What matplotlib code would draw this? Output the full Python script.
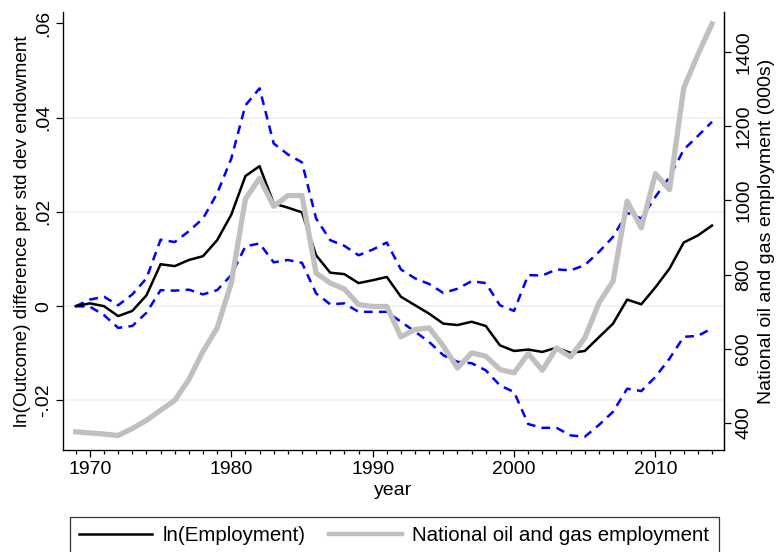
import numpy as np
import matplotlib
matplotlib.use("Agg")
import matplotlib.pyplot as plt
from matplotlib.ticker import MultipleLocator

plt.rcParams['font.family'] = ['Liberation Sans', 'DejaVu Sans']

years = list(range(1969, 2015))

ln_emp = [0.0, 0.0006, 0.0, -0.0021, -0.001, 0.0023, 0.0089, 0.0085, 0.0098, 0.0106,
          0.014, 0.0194, 0.0276, 0.0297, 0.0218, 0.0209, 0.0199, 0.0108, 0.0071, 0.0068,
          0.0049, 0.0055, 0.0062, 0.002, 0.0002, -0.0016, -0.0037, -0.004, -0.0033, -0.0042,
          -0.0083, -0.0095, -0.0092, -0.0097, -0.0088, -0.0099, -0.0095, -0.0066, -0.0037, 0.0014,
          0.0004, 0.004, 0.008, 0.0135, 0.015, 0.0171]

ci_upper = [0.0, 0.0014, 0.002, 0.0002, 0.0025, 0.0059, 0.0141, 0.0136, 0.0159, 0.0186,
            0.0239, 0.0313, 0.0426, 0.0462, 0.0345, 0.0322, 0.0305, 0.0186, 0.014, 0.0128,
            0.0108, 0.012, 0.0135, 0.0078, 0.0059, 0.0047, 0.0028, 0.0037, 0.0053, 0.0049,
            0.0002, -0.001, 0.0066, 0.0065, 0.0078, 0.0076, 0.0087, 0.0115, 0.0147, 0.0198,
            0.0186, 0.0232, 0.0274, 0.0332, 0.0361, 0.0391]

ci_lower = [0.0, -0.0001, -0.0019, -0.0046, -0.0042, -0.0014, 0.0034, 0.0033, 0.0035, 0.0025,
            0.0034, 0.0066, 0.0127, 0.0133, 0.0093, 0.0098, 0.0092, 0.0027, 0.0004, 0.0006,
            -0.0012, -0.0012, -0.0012, -0.0033, -0.0054, -0.0076, -0.0104, -0.0118, -0.0121, -0.0136,
            -0.0168, -0.0182, -0.025, -0.0258, -0.0258, -0.0274, -0.0277, -0.0252, -0.0224, -0.0175,
            -0.018, -0.015, -0.0111, -0.0065, -0.0063, -0.0047]

natl_emp = [376, 373, 370, 366, 385, 407, 434, 461, 517, 593,
            656, 777, 1004, 1060, 984, 1013, 1013, 804, 777, 761,
            719, 714, 714, 632, 652, 656, 607, 548, 589, 580,
            544, 535, 587, 542, 602, 578, 629, 723, 782, 998,
            926, 1072, 1029, 1303, 1393, 1476]

left_ticks = [-0.02, 0, 0.02, 0.04, 0.06]
left_labels = ['-.02', '0', '.02', '.04', '.06']
grid_vals = [-0.02, 0, 0.02, 0.04]
right_ticks = [400, 600, 800, 1000, 1200, 1400]
x_ticks = [1970, 1980, 1990, 2000, 2010]

fig = plt.figure(figsize=(7.79, 5.52), dpi=100)
ax = fig.add_axes([0.0809, 0.1848, 0.8485, 0.7935])

for g in grid_vals:
    ax.axhline(g, color='#eaf2f3', lw=1.2, zorder=0)

ax.plot(years, ci_upper, color='#0000ff', lw=1.8, ls=(0, (3.5, 2.5)), zorder=2)
ax.plot(years, ci_lower, color='#0000ff', lw=1.8, ls=(0, (3.5, 2.5)), zorder=2)
l1, = ax.plot(years, ln_emp, color='black', lw=1.8, zorder=3, label='ln(Employment)')

ax.set_xlim(1968.1, 2014.85)
ax.set_ylim(-0.0305, 0.0624)
ax.set_yticks(left_ticks)
ax.set_yticklabels(left_labels, rotation=90, va='center', fontsize=14)
ax.set_xticks(x_ticks)
ax.set_xticklabels([str(x) for x in x_ticks], fontsize=14)
ax.xaxis.set_minor_locator(MultipleLocator(1))
ax.tick_params(axis='both', which='major', direction='out', length=5, width=0.9, pad=3)
ax.tick_params(axis='x', which='minor', direction='out', length=3, width=0.9)
ax.set_xlabel('year', fontsize=14, labelpad=3)
ax.set_ylabel('ln(Outcome) difference per std dev endowment', fontsize=13.6, labelpad=3)
ax.spines['top'].set_visible(False)
for s in ['left', 'bottom', 'right']:
    ax.spines[s].set_linewidth(0.9)

ax2 = ax.twinx()
l2, = ax2.plot(years, natl_emp, color='#c0c0c0', lw=3.8, zorder=4,
               label='National oil and gas employment')
ax2.set_ylim(327, 1508)
ax2.set_yticks(right_ticks)
ax2.set_yticklabels([str(v) for v in right_ticks], rotation=90, va='center', fontsize=14)
ax2.tick_params(axis='y', direction='out', length=5, width=0.9, pad=3)
ax2.set_ylabel('National oil and gas employment (000s)', fontsize=14, labelpad=4)
ax2.spines['top'].set_visible(False)
ax2.spines['right'].set_linewidth(0.9)

leg = fig.legend(handles=[l1, l2], loc='upper left', bbox_to_anchor=(0.0899, 0.0634),
                 borderaxespad=0, ncol=2, fontsize=14.8, frameon=True, fancybox=False,
                 edgecolor='black', handlelength=3.55, handletextpad=0.5,
                 columnspacing=1.15, borderpad=0.45)
leg.get_frame().set_linewidth(0.9)
leg.legend_handles[1].set_linewidth(3.2)

fig.savefig('out.png', dpi=100)
